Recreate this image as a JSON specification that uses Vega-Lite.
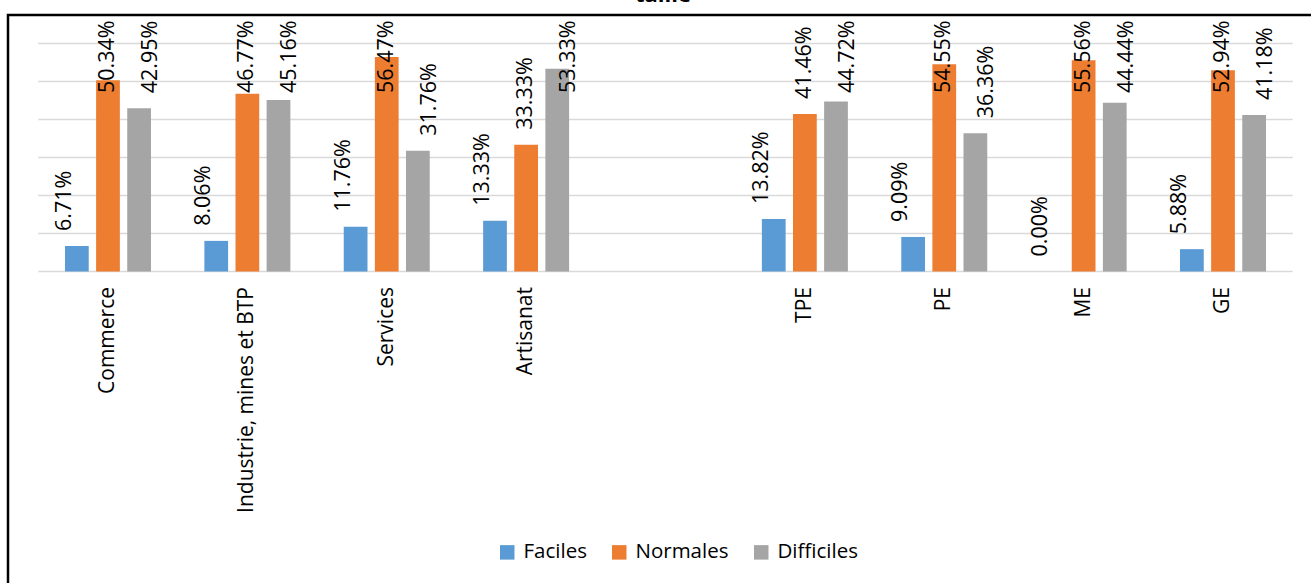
{
  "$schema": "https://vega.github.io/schema/vega-lite/v6.json",
  "width": 1310,
  "height": 580,
  "autosize": "none",
  "padding": {"left": 8, "top": 15, "right": 0, "bottom": 0},
  "background": "white",
  "title": {"text": "taille", "fontSize": 22, "fontWeight": "bold", "font": "Open Sans", "anchor": "middle", "offset": 2, "baseline": "alphabetic", "dy": 11, "color": "black"},
  "config": {"view": {"stroke": "black", "strokeWidth": 2.5}, "font": "Open Sans"},
  "datasets": {
    "d": [
      {"cat": "Commerce", "serie": "Faciles", "value": 0.0671},
      {"cat": "Commerce", "serie": "Normales", "value": 0.5034},
      {"cat": "Commerce", "serie": "Difficiles", "value": 0.4295},
      {"cat": "Industrie, mines et BTP", "serie": "Faciles", "value": 0.0806},
      {"cat": "Industrie, mines et BTP", "serie": "Normales", "value": 0.4677},
      {"cat": "Industrie, mines et BTP", "serie": "Difficiles", "value": 0.4516},
      {"cat": "Services", "serie": "Faciles", "value": 0.1176},
      {"cat": "Services", "serie": "Normales", "value": 0.5647},
      {"cat": "Services", "serie": "Difficiles", "value": 0.3176},
      {"cat": "Artisanat", "serie": "Faciles", "value": 0.1333},
      {"cat": "Artisanat", "serie": "Normales", "value": 0.3333},
      {"cat": "Artisanat", "serie": "Difficiles", "value": 0.5333},
      {"cat": "TPE", "serie": "Faciles", "value": 0.1382},
      {"cat": "TPE", "serie": "Normales", "value": 0.4146},
      {"cat": "TPE", "serie": "Difficiles", "value": 0.4472},
      {"cat": "PE", "serie": "Faciles", "value": 0.0909},
      {"cat": "PE", "serie": "Normales", "value": 0.5455},
      {"cat": "PE", "serie": "Difficiles", "value": 0.3636},
      {"cat": "ME", "serie": "Faciles", "value": 0.0},
      {"cat": "ME", "serie": "Normales", "value": 0.5556},
      {"cat": "ME", "serie": "Difficiles", "value": 0.4444},
      {"cat": "GE", "serie": "Faciles", "value": 0.0588},
      {"cat": "GE", "serie": "Normales", "value": 0.5294},
      {"cat": "GE", "serie": "Difficiles", "value": 0.4118}
    ],
    "grid": [{"g": 0}, {"g": 0.1}, {"g": 0.2}, {"g": 0.3}, {"g": 0.4}, {"g": 0.5}, {"g": 0.6}]
  },
  "layer": [
    {
      "data": {"name": "grid"},
      "mark": {"type": "rule", "color": "#D9D9D9", "strokeWidth": 1.5},
      "encoding": {
        "x": {"datum": 0, "type": "quantitative", "scale": {"domain": [0, 1], "range": [30.3, 1284.7], "nice": false, "zero": false}, "axis": null},
        "x2": {"datum": 1},
        "y": {"field": "g", "type": "quantitative", "scale": {"domain": [0, 0.6], "range": [256.5, 28.5], "nice": false}, "axis": null}
      }
    },
    {
      "data": {"name": "d"},
      "mark": {"type": "bar"},
      "encoding": {
        "x": {
          "field": "cat", "type": "nominal", "sort": null,
          "scale": {"domain": ["Commerce", "Industrie, mines et BTP", "Services", "Artisanat", " ", "TPE", "PE", "ME", "GE"], "range": [30.3, 1284.7], "paddingInner": 0.383, "paddingOuter": 0.1915},
          "axis": {"orient": "bottom", "offset": -323.5, "title": null, "domain": false, "ticks": false, "grid": false, "labelAngle": -90, "labelAlign": "right", "labelBaseline": "middle", "labelPadding": 15, "labelFontSize": 21, "labelFont": "Open Sans", "labelColor": "black", "labelLimit": 400}
        },
        "xOffset": {"field": "serie", "type": "nominal", "sort": ["Faciles", "Normales", "Difficiles"], "scale": {"paddingInner": 0.237, "paddingOuter": 0}},
        "y": {"field": "value", "type": "quantitative", "scale": {"domain": [0, 0.6], "range": [256.5, 28.5], "nice": false}, "axis": null},
        "color": {
          "field": "serie", "type": "nominal", "sort": ["Faciles", "Normales", "Difficiles"],
          "scale": {"domain": ["Faciles", "Normales", "Difficiles"], "range": ["#5B9BD5", "#ED7D31", "#A5A5A5"]},
          "legend": {"orient": "none", "legendX": 489, "legendY": 527, "direction": "horizontal", "title": null, "symbolType": "square", "symbolSize": 210, "symbolStrokeWidth": 0, "labelFontSize": 20.5, "labelFont": "Open Sans", "labelColor": "black", "columnPadding": 22, "labelOffset": 6, "padding": 0}
        }
      }
    },
    {
      "data": {"name": "d"},
      "mark": {"type": "text", "angle": 270, "align": "left", "baseline": "middle", "dx": 15, "fontSize": 21.5, "font": "Open Sans", "color": "black"},
      "encoding": {
        "x": {"field": "cat", "type": "nominal", "sort": null, "scale": {"domain": ["Commerce", "Industrie, mines et BTP", "Services", "Artisanat", " ", "TPE", "PE", "ME", "GE"], "range": [30.3, 1284.7], "paddingInner": 0.383, "paddingOuter": 0.1915}, "axis": null},
        "xOffset": {"field": "serie", "type": "nominal", "sort": ["Faciles", "Normales", "Difficiles"], "scale": {"paddingInner": 0.237, "paddingOuter": 0}},
        "y": {"field": "value", "type": "quantitative", "scale": {"domain": [0, 0.43], "range": [256.5, 93.1], "clamp": true, "nice": false, "zero": true}, "axis": null},
        "text": {"field": "value", "type": "quantitative", "format": ".2%"}
      }
    }
  ],
  "resolve": {"scale": {"x": "independent", "y": "independent", "xOffset": "independent"}}
}
